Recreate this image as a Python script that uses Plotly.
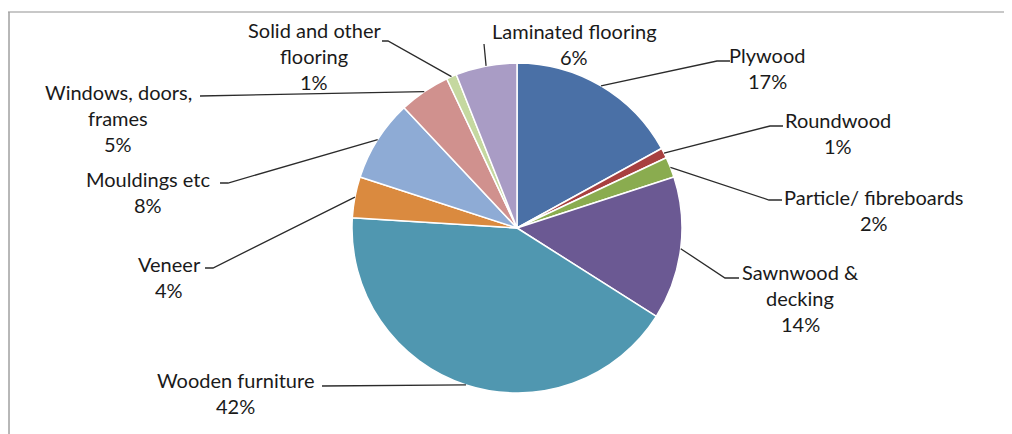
import math
import plotly.graph_objects as go

# ---- data ----
categories = ["Plywood", "Roundwood", "Particle/ fibreboards", "Sawnwood & decking",
              "Wooden furniture", "Veneer", "Mouldings etc", "Windows, doors, frames",
              "Solid and other flooring", "Laminated flooring"]
values = [17, 1, 2, 14, 42, 4, 8, 5, 1, 6]
label_lines = [["Plywood"], ["Roundwood"], ["Particle/ fibreboards"], ["Sawnwood &", "decking"],
               ["Wooden furniture"], ["Veneer"], ["Mouldings etc"], ["Windows, doors,", "frames"],
               ["Solid and other", "flooring"], ["Laminated flooring"]]
colors = ["#4a70a6", "#a8403f", "#8aac4f", "#6b5993", "#5097b0", "#da8a3f",
          "#8eabd5", "#d0918e", "#c5d8a0", "#a99cc5"]

# ---- layout constants (screen pixels) ----
OFF = 8                      # page body margin
W, H = 1012 - OFF, 434 - OFF  # figure size
CX, CY, R = 517, 228, 165
# text centre x, y of first line; elbow point; end point of leader
label_pos = [(767, 55), (838, 120), (874, 197), (800, 272), (235, 380),
             (169, 264), (148, 179), (118, 92), (314, 30), (574, 31)]
elbows = [(717, 61), (770, 126), (769, 200), (725, 278), (322, 386),
          (213, 268), (228, 183), (200, 96), (388, 41), (484, 44)]
ends = [(730, 61), (783, 126), (782, 200), (739, 278), (322, 386),
        (205, 268), (220, 183), (200, 96), (382, 41), (484, 44)]
LINE_H = 26

def px(x, y):
    return (x - OFF) / W, 1 - (y - OFF) / H

fig = go.Figure(go.Pie(
    labels=categories, values=values, sort=False, direction="clockwise", rotation=0,
    marker=dict(colors=colors, line=dict(color="white", width=1.5)),
    textinfo="none", hoverinfo="label+percent", showlegend=False,
    domain=dict(x=[(CX - R - OFF) / W, (CX + R - OFF) / W],
                y=[(H - (CY - OFF) - R) / H, (H - (CY - OFF) + R) / H]),
))

total = sum(values)
cum = 0
shapes = []
annotations = []
for i, v in enumerate(values):
    mid = (cum + v / 2) / total * 2 * math.pi
    cum += v
    ex = CX + R * math.sin(mid)
    ey = CY - R * math.cos(mid)
    pts = [px(ex, ey), px(*elbows[i]), px(*ends[i])]
    path = "M {:.5f} {:.5f} L {:.5f} {:.5f} L {:.5f} {:.5f}".format(*pts[0], *pts[1], *pts[2])
    shapes.append(dict(type="path", xref="paper", yref="paper", path=path,
                       line=dict(color="#2b2b2b", width=1.3)))
    lines = label_lines[i] + [f"{round(v / total * 100)}%"]
    tx, ty = label_pos[i]
    for k, t in enumerate(lines):
        x, y = px(tx, ty + k * LINE_H)
        annotations.append(dict(x=x, y=y, xref="paper", yref="paper", text=t,
                                showarrow=False, xanchor="center", yanchor="middle",
                                font=dict(family="Lato", size=20, color="#1a1a1a")))

# frame
x0, y0 = px(8, 12)
shapes.append(dict(type="line", xref="paper", yref="paper", x0=x0, x1=1, y0=y0, y1=y0,
                   line=dict(color="#c8c8c8", width=2)))
shapes.append(dict(type="line", xref="paper", yref="paper", x0=x0 + 0.001, x1=x0 + 0.001, y0=y0, y1=0,
                   line=dict(color="#a0a0a0", width=1.5)))

fig.update_layout(width=W, height=H, margin=dict(l=0, r=0, t=0, b=0),
                  paper_bgcolor="white", plot_bgcolor="white",
                  shapes=shapes, annotations=annotations)
fig.write_html("out.html")
